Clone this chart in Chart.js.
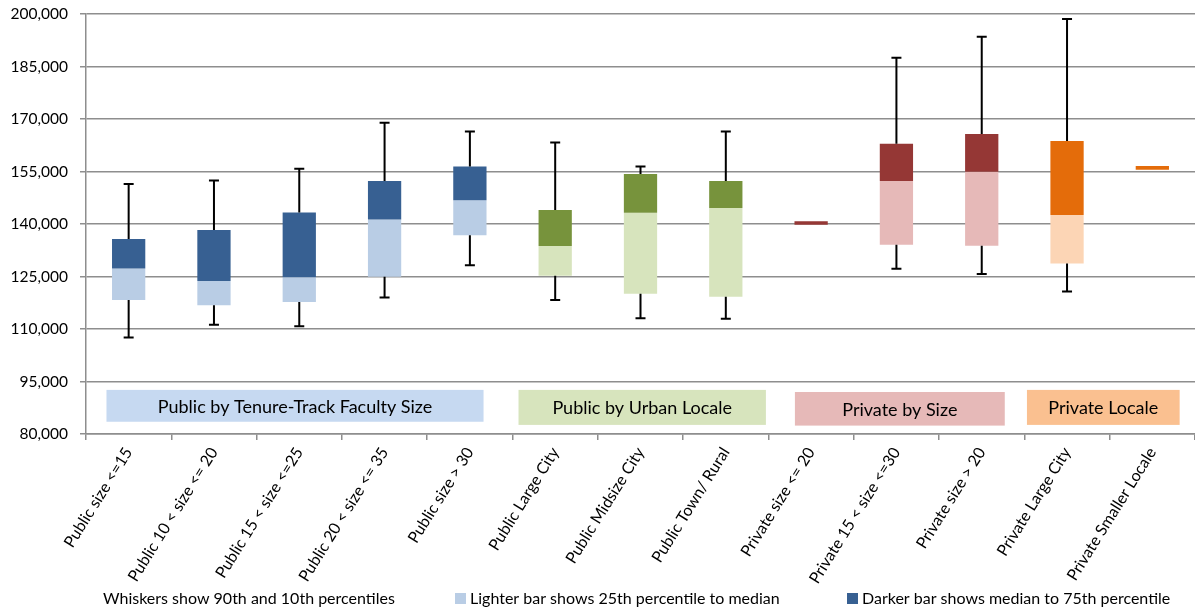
<!DOCTYPE html>
<html>
<head>
<meta charset="utf-8">
<script src="https://cdn.jsdelivr.net/npm/chart.js@4.4.1/dist/chart.umd.min.js"></script>
<style>
  html, body { margin: 0; padding: 0; background: #fff; }
  #wrap { width: 1195px; height: 612px; position: relative; }
</style>
</head>
<body>
<div id="wrap"><canvas id="chart"></canvas></div>
<script>
// Categories (x axis)
const categories = [
    'Public size <=15', 'Public 10 < size <= 20', 'Public 15 < size <=25',
    'Public 20 < size <= 35', 'Public size > 30', 'Public Large City',
    'Public Midsize City', 'Public Town/ Rural', 'Private size <= 20',
    'Private 15 < size <=30', 'Private size > 20', 'Private Large City',
    'Private Smaller Locale'
];

// Percentiles
const p90    = [151400, 152400, 155800, 168900, 166400, 163300, 156400, 166400, null,   187500, 193500, 198600, null];
const q3     = [135700, 138300, 143300, 152300, 156400, 144000, 154300, 152300, 140800, 162900, 165700, 163700, 156600];
const median = [127300, 123700, 124800, 141300, 146800, 133700, 143200, 144600, 139800, 152300, 154900, 142600, 155500];
const q1     = [118300, 116800, 117700, 124900, 136800, 125200, 120100, 119200, null,   134100, 133800, 128700, null];
const p10    = [107600, 111200, 110800, 119000, 128200, 118300, 113100, 112900, null,   127200, 125700, 120700, null];

// Which group each category belongs to
const groupOf = [0, 0, 0, 0, 0, 1, 1, 1, 2, 2, 2, 3, 3];
const groupLabels = ['Public by Tenure-Track Faculty Size', 'Public by Urban Locale', 'Private by Size', 'Private Locale'];

// Y axis ticks
const yMin = 80000;
const yMax = 200000;
const yStep = 15000;

// Colours
const darkColors  = ['#376092', '#77933c', '#953735', '#e46c0a'];
const lightColors = ['#b9cde5', '#d7e4bd', '#e6b9b8', '#fcd5b5'];
const groupBoxColors = ['#c6d9f1', '#d7e4bd', '#e6b9b8', '#fac090'];

// Group label boxes: category index range and value range
const groupBoxes = [
    { from: -0.26, to: 4.16, top: 92600, bottom: 83500 },
    { from: 4.57, to: 7.47, top: 92600, bottom: 82600 },
    { from: 7.81, to: 10.27, top: 92000, bottom: 82400 },
    { from: 10.53, to: 12.32, top: 92600, bottom: 82600 }
];

const FONT = 'Lato, "Liberation Sans", sans-serif';

const lightData = categories.map((c, i) => (q1[i] == null ? null : [q1[i], median[i]]));
const darkData = categories.map((c, i) => [median[i], q3[i]]);

// Group label boxes behind the bars
const groupBoxPlugin = {
    id: 'groupBoxes',
    beforeDatasetsDraw(chart) {
        const ctx = chart.ctx;
        const x = chart.scales.x;
        const y = chart.scales.y;
        const step = x.getPixelForValue(1) - x.getPixelForValue(0);
        ctx.save();
        groupBoxes.forEach((g, i) => {
            const left = x.getPixelForValue(0) + g.from * step;
            const right = x.getPixelForValue(0) + g.to * step;
            const top = y.getPixelForValue(g.top);
            const bottom = y.getPixelForValue(g.bottom);
            ctx.fillStyle = groupBoxColors[i];
            ctx.fillRect(left, top, right - left, bottom - top);
            ctx.fillStyle = '#000';
            ctx.font = '18px ' + FONT;
            ctx.textAlign = 'center';
            ctx.textBaseline = 'middle';
            ctx.fillText(groupLabels[i], (left + right) / 2, (top + bottom) / 2 + 1);
        });
        ctx.restore();
    }
};

// Whiskers: 90th and 10th percentiles
const whiskerPlugin = {
    id: 'whiskers',
    afterDatasetsDraw(chart) {
        const ctx = chart.ctx;
        const x = chart.scales.x;
        const y = chart.scales.y;
        ctx.save();
        ctx.strokeStyle = '#000';
        ctx.lineWidth = 2;
        categories.forEach((c, i) => {
            const cx = x.getPixelForValue(i);
            const pairs = [[q3[i], p90[i]], [q1[i], p10[i]]];
            pairs.forEach(([from, to]) => {
                if (from == null || to == null) return;
                const y0 = y.getPixelForValue(from);
                const y1 = y.getPixelForValue(to);
                ctx.beginPath();
                ctx.moveTo(cx, y0);
                ctx.lineTo(cx, y1);
                ctx.moveTo(cx - 5, y1);
                ctx.lineTo(cx + 5, y1);
                ctx.stroke();
            });
        });
        ctx.restore();
    }
};

// Bottom legend text
const legendPlugin = {
    id: 'bottomLegend',
    afterDraw(chart) {
        const ctx = chart.ctx;
        const yText = 599;
        ctx.save();
        ctx.font = '16px ' + FONT;
        ctx.fillStyle = '#000';
        ctx.textBaseline = 'middle';
        ctx.textAlign = 'left';
        ctx.fillText('Whiskers show 90th and 10th percentiles', 103, yText);
        ctx.fillStyle = lightColors[0];
        ctx.fillRect(455, yText - 6, 11, 11);
        ctx.fillStyle = '#000';
        ctx.fillText('Lighter bar shows 25th percentile to median', 470, yText);
        ctx.fillStyle = darkColors[0];
        ctx.fillRect(847, yText - 6, 11, 11);
        ctx.fillStyle = '#000';
        ctx.fillText('Darker bar shows median to 75th percentile', 862, yText);
        ctx.restore();
    }
};

new Chart(document.getElementById('chart'), {
    type: 'bar',
    data: {
        labels: categories,
        datasets: [
            {
                label: 'Lighter bar shows 25th percentile to median',
                data: lightData,
                backgroundColor: categories.map((c, i) => lightColors[groupOf[i]]),
                barPercentage: 0.39,
                categoryPercentage: 1,
                grouped: false,
                order: 2
            },
            {
                label: 'Darker bar shows median to 75th percentile',
                data: darkData,
                backgroundColor: categories.map((c, i) => darkColors[groupOf[i]]),
                barPercentage: 0.39,
                categoryPercentage: 1,
                grouped: false,
                order: 1
            }
        ]
    },
    options: {
        responsive: true,
        maintainAspectRatio: false,
        animation: false,
        layout: { padding: { top: 14, right: 0, bottom: 28, left: 0 } },
        plugins: {
            legend: { display: false },
            tooltip: { enabled: false }
        },
        scales: {
            x: {
                grid: {
                    offset: true,
                    drawOnChartArea: false,
                    color: '#8e8e8e',
                    tickLength: 6,
                    lineWidth: 1.5
                },
                border: { color: '#8e8e8e', width: 1.5 },
                ticks: {
                    autoSkip: false,
                    minRotation: 58,
                    maxRotation: 58,
                    padding: 4,
                    color: '#000',
                    font: { family: FONT, size: 16 }
                },
                afterFit(scale) { scale.height = 150; }
            },
            y: {
                min: yMin,
                max: yMax,
                grid: {
                    color: '#8e8e8e',
                    lineWidth: 1.5,
                    tickLength: 6
                },
                border: { color: '#8e8e8e', width: 1.5 },
                ticks: {
                    stepSize: yStep,
                    padding: 12,
                    color: '#000',
                    font: { family: FONT, size: 15.5 },
                    callback: v => v.toLocaleString('en-US')
                },
                afterFit(scale) {
                    scale.width = 86;
                    scale.paddingTop = 0;
                    scale.paddingBottom = 0;
                }
            }
        }
    },
    plugins: [groupBoxPlugin, whiskerPlugin, legendPlugin]
});
</script>
</body>
</html>
